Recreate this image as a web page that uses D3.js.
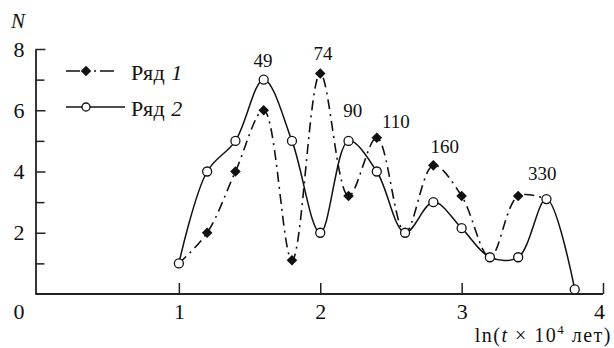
<!DOCTYPE html>
<html>
<head>
<meta charset="utf-8">
<script src="https://cdn.jsdelivr.net/npm/d3@7"></script>
<style>
    body { margin: 0; background: #fff; }
    svg text { font-family: "Liberation Serif", "DejaVu Serif", serif; fill: #111; }
</style>
</head>
<body>
<div id="main"></div>
<script>
// series 1 (filled diamonds, dash-dot) and series 2 (open circles, solid)
var row1X = [1.0, 1.2, 1.4, 1.6, 1.8, 2.0, 2.2, 2.4, 2.6, 2.8, 3.0, 3.2, 3.4, 3.6];
var row1N = [1.0, 2.0, 4.0, 6.0, 1.1, 7.2, 3.2, 5.1, 2.0, 4.2, 3.2, 1.2, 3.2, 3.1];
var row1Marked = [1.2, 1.4, 1.6, 1.8, 2.0, 2.2, 2.4, 2.8, 3.0, 3.4];

var row2X = [1.0, 1.2, 1.4, 1.6, 1.8, 2.0, 2.2, 2.4, 2.6, 2.8, 3.0, 3.2, 3.4, 3.6, 3.8];
var row2N = [1.0, 4.0, 5.0, 7.0, 5.0, 2.0, 5.0, 4.0, 2.0, 3.0, 2.15, 1.2, 1.2, 3.1, 0.15];

// age labels over the peaks (placed in data units)
var peakLabels = ["49", "74", "90", "110", "160", "330"];
var peakX = [1.595, 2.02, 2.23, 2.535, 2.88, 3.57];
var peakN = [7.42, 7.65, 5.78, 5.42, 4.61, 3.73];

var xTicks = [1, 2, 3, 4];
var yTicks = [2, 4, 6, 8];
var yMinor = [1, 3, 5, 7];
var legendNames = ["Ряд ", "Ряд "];
var legendNums = ["1", "2"];

var ctx = { w: 614, h: 348 };
var serif = "'Liberation Serif', 'DejaVu Serif', serif";

var createViz = function () {
    var svg = d3.select("#main").append("svg")
        .attr("width", ctx.w)
        .attr("height", ctx.h)
        .attr("font-family", serif);

    var x = d3.scaleLinear().domain([0, 4]).range([37.5, 603]);
    var y = d3.scaleLinear().domain([0, 8]).range([294, 49]);

    // axes
    svg.append("g")
        .attr("transform", "translate(" + (x(0) - 2) + ",0)")
        .call(d3.axisLeft(y).tickValues(yTicks).tickSizeInner(-10).tickSizeOuter(0)
            .tickPadding(11).tickFormat(d3.format("d")));
    svg.append("g")
        .attr("transform", "translate(" + (x(0) - 2) + ",0)")
        .call(d3.axisLeft(y).tickValues(yMinor).tickSizeInner(-9).tickSizeOuter(0).tickFormat(""))
        .select(".domain").remove();
    var xAxis = svg.append("g")
        .attr("transform", "translate(0," + y(0) + ")")
        .call(d3.axisBottom(x).tickValues(xTicks).tickSizeInner(-11).tickSizeOuter(0)
            .tickPadding(9).tickFormat(d3.format("d")));

    svg.selectAll("g").attr("font-family", serif);
    svg.selectAll(".tick line").attr("stroke", "#222").attr("stroke-width", 1.5);
    svg.selectAll(".domain").attr("stroke", "#222").attr("stroke-width", 1.8);
    svg.selectAll(".tick text")
        .style("font-family", serif)
        .style("font-size", "22px")
        .attr("fill", "#111");
    xAxis.select(".domain").attr("d", "M" + (x(0) - 2) + ",0H" + x(4));
    xAxis.selectAll(".tick text").filter(function (d) { return d === 4; }).attr("dx", -4);

    svg.append("text").attr("x", 19).attr("y", 319)
        .attr("text-anchor", "middle").style("font-size", "22px").text("0");
    svg.append("text").attr("x", 18).attr("y", 28)
        .attr("text-anchor", "middle").style("font-size", "21px")
        .style("font-style", "italic").text("N");

    var xt = svg.append("text").attr("x", 612).attr("y", 342)
        .attr("text-anchor", "end").style("font-size", "20px")
        .style("letter-spacing", "1.5px");
    xt.append("tspan").text("ln(");
    xt.append("tspan").style("font-style", "italic").text("t");
    xt.append("tspan").text(" × 10");
    xt.append("tspan").attr("dy", -8).style("font-size", "13px").text("4");
    xt.append("tspan").attr("dy", 8).text(" лет)");

    var line = d3.line()
        .x(function (d) { return x(d[0]); })
        .y(function (d) { return y(d[1]); })
        .curve(d3.curveCatmullRom.alpha(0.5));

    var pts1 = row1X.map(function (v, i) { return [v, row1N[i]]; });
    var pts2 = row2X.map(function (v, i) { return [v, row2N[i]]; });

    svg.append("path").attr("d", line(pts1))
        .attr("fill", "none").attr("stroke", "#111").attr("stroke-width", 1.6)
        .attr("stroke-dasharray", "10,5,2,5");
    svg.append("path").attr("d", line(pts2))
        .attr("fill", "none").attr("stroke", "#111").attr("stroke-width", 1.5);

    var diamond = d3.symbol().type(d3.symbolSquare).size(56);

    svg.append("g").selectAll("path")
        .data(pts1.filter(function (d) { return row1Marked.indexOf(d[0]) >= 0; }))
        .enter().append("path")
        .attr("d", diamond)
        .attr("transform", function (d) {
            return "translate(" + x(d[0]) + "," + y(d[1]) + ") rotate(45)";
        })
        .attr("fill", "#111");

    svg.append("g").selectAll("circle")
        .data(pts2).enter().append("circle")
        .attr("cx", function (d) { return x(d[0]); })
        .attr("cy", function (d) { return y(d[1]); })
        .attr("r", 4.5)
        .attr("fill", "#fff").attr("stroke", "#111").attr("stroke-width", 1.3);

    svg.append("g").selectAll("text")
        .data(peakLabels).enter().append("text")
        .attr("x", function (d, i) { return x(peakX[i]); })
        .attr("y", function (d, i) { return y(peakN[i]); })
        .attr("text-anchor", "middle")
        .style("font-size", "19px")
        .text(function (d) { return d; });

    // legend
    var leg = svg.append("g");
    legendNames.forEach(function (name, i) {
        var ly = 71 + i * 36;
        leg.append("line").attr("x1", 66).attr("x2", 125).attr("y1", ly).attr("y2", ly)
            .attr("stroke", "#111").attr("stroke-width", 1.6)
            .attr("stroke-dasharray", i === 0 ? "14,14,2,4,14" : null);
        if (i === 0) {
            leg.append("path").attr("d", diamond)
                .attr("transform", "translate(86," + ly + ") rotate(45)").attr("fill", "#111");
        } else {
            leg.append("circle").attr("cx", 86).attr("cy", ly).attr("r", 4)
                .attr("fill", "#fff").attr("stroke", "#111").attr("stroke-width", 1.3);
        }
        var t = leg.append("text").attr("x", 131).attr("y", ly + 9)
            .style("font-size", "22px").style("letter-spacing", "0.5px");
        t.append("tspan").text(name);
        t.append("tspan").style("font-style", "italic").text(legendNums[i]);
    });
};

createViz();
</script>
</body>
</html>
